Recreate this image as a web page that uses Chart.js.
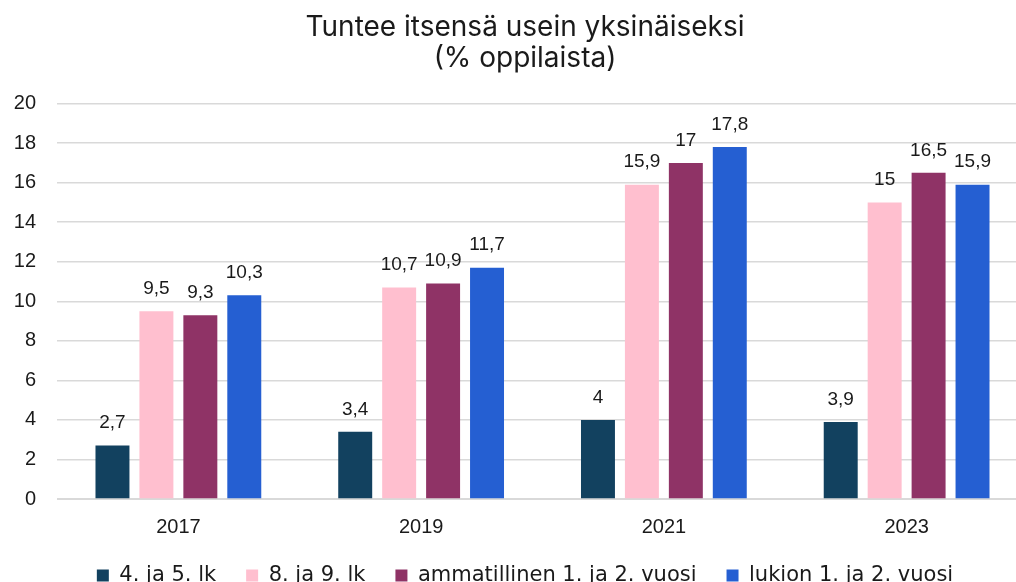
<!DOCTYPE html>
<html>
<head>
<meta charset="utf-8">
<script src="https://cdn.jsdelivr.net/npm/chart.js@4"></script>
<style>
  html, body { margin: 0; padding: 0; overflow: hidden; background: #fff; }
  #wrap { width: 1050px; height: 596px; position: relative; }
</style>
</head>
<body>
<div id="wrap"><canvas id="chart"></canvas></div>
<script>
const years = ['2017', '2019', '2021', '2023'];
const seriesNames = ['4. ja 5. lk', '8. ja 9. lk', 'ammatillinen 1. ja 2. vuosi', 'lukion 1. ja 2. vuosi'];
const grade45 = [2.7, 3.4, 4, 3.9];
const grade89 = [9.5, 10.7, 15.9, 15];
const vocational = [9.3, 10.9, 17, 16.5];
const upperSec = [10.3, 11.7, 17.8, 15.9];
const yTicks = [0, 2, 4, 6, 8, 10, 12, 14, 16, 18, 20];

const colors = ['#12415f', '#ffbfcf', '#8f3366', '#255fd2'];

// value labels above each bar, Finnish decimal comma
const valueLabels = {
    id: 'valueLabels',
    afterLayout(chart){
        // let y tick labels spill into the left padding without clipping
        chart.scales.y.left = 0;
        // pull the legend up a little
        chart.legend.top -= 12;
        chart.legend.bottom -= 12;
    },
    afterDatasetsDraw(chart){
        const ctx = chart.ctx;
        ctx.save();
        ctx.font = '19px "Liberation Sans", Arial, sans-serif';
        ctx.fillStyle = '#1a1a1a';
        ctx.textAlign = 'center';
        ctx.textBaseline = 'bottom';
        chart.data.datasets.forEach((ds, i) => {
            const meta = chart.getDatasetMeta(i);
            meta.data.forEach((bar, j) => {
                const txt = String(ds.data[j]).replace('.', ',');
                ctx.fillText(txt, bar.x, bar.y - 13);
            });
        });
        ctx.restore();
    }
};

const ctx = document.getElementById('chart').getContext('2d');
const myChart = new Chart(ctx, {
    type: 'bar',
    data: {
        labels: years,
        datasets: [grade45, grade89, vocational, upperSec].map((d, i) => ({
            label: seriesNames[i],
            data: d,
            backgroundColor: colors[i],
            categoryPercentage: 0.724,
            barPercentage: 0.773
        }))
    },
    options: {
        responsive: true,
        maintainAspectRatio: false,
        animation: false,
        layout: { padding: { left: 22, right: 22, top: 8, bottom: -12 } },
        scales: {
            x: {
                grid: { display: false },
                border: { color: '#d9d9d9' },
                ticks: {
                    color: '#1a1a1a',
                    padding: 8,
                    font: { family: '"Liberation Sans", Arial, sans-serif', size: 20 }
                }
            },
            y: {
                min: 0,
                max: 20,
                afterBuildTicks(axis){
                    axis.ticks = yTicks.map(v => ({ value: v }));
                },
                afterFit(axis){
                    axis.width = 35;
                },
                grid: { color: '#d9d9d9', drawTicks: false, lineWidth: 1.5 },
                border: { display: false },
                ticks: {
                    color: '#1a1a1a',
                    padding: 21,
                    font: { family: '"Liberation Sans", Arial, sans-serif', size: 20 }
                }
            }
        },
        plugins: {
            legend: {
                position: 'bottom',
                labels: {
                    color: '#1a1a1a',
                    boxWidth: 12,
                    boxHeight: 12,
                    padding: 30,
                    font: { family: '"DejaVu Sans", sans-serif', size: 21 }
                }
            },
            title: {
                display: true,
                text: ['Tuntee itsensä usein yksinäiseksi', '(% oppilaista)'],
                color: '#1a1a1a',
                padding: { top: 4, bottom: 30 },
                font: { family: 'Inter, sans-serif', size: 28, weight: 'normal', lineHeight: 1.1 }
            },
            tooltip: { enabled: false }
        }
    },
    plugins: [valueLabels]
});
</script>
</body>
</html>
